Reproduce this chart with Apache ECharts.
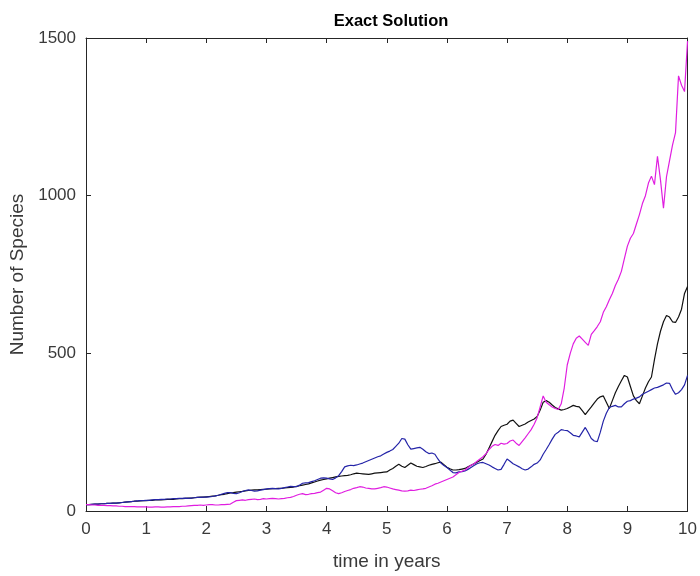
<!DOCTYPE html>
<html>
<head>
<meta charset="utf-8">
<script src="https://cdn.jsdelivr.net/npm/echarts@6/dist/echarts.min.js"></script>
<style>
  html, body { margin: 0; padding: 0; background: #ffffff; }
  #chart { width: 700px; height: 576px; }
</style>
</head>
<body>
<div id="chart"></div>
<script>
// Time grid (years), sampled every 0.05
const years = [];
for (let i = 0; i <= 200; i++) years.push(+(i / 20).toFixed(2));

// Simulated population paths (number of species), one row per year
const magentaPath = [
  20, 20, 19, 19, 18, 18, 18, 17, 17, 16, 16, 15, 15, 14, 14, 14, 14, 13, 13, 13,
  13, 12, 12, 13, 13, 12, 12, 13, 13, 14, 14, 14, 15, 15, 16, 17, 18, 18, 19, 18,
  19, 20, 20, 19, 19, 20, 20, 21, 22, 28, 33, 34, 35, 34, 36, 37, 38, 36, 37, 39,
  38, 39, 40, 39, 38, 39, 40, 42, 43, 46, 50, 53, 55, 52, 53, 55, 56, 58, 60, 66,
  72, 70, 64, 58, 55, 58, 62, 65, 68, 72, 74, 77, 76, 73, 72, 70, 70, 72, 74, 77,
  76, 73, 70, 68, 66, 64, 63, 64, 66, 65, 67, 69, 70, 72, 76, 80, 85, 88, 92, 96,
  100, 104, 108, 115, 122, 126, 130, 138, 145, 150, 158, 165, 172, 182, 195, 205, 211, 208, 215, 212,
  214, 222, 225, 215, 208, 220, 232, 245, 258, 275, 296, 330, 365, 345, 337, 330, 325, 322, 340, 390,
  463, 500, 530, 548, 555, 545, 535, 525, 560, 572, 585, 600, 630, 648, 670, 690, 715, 735, 760, 800,
  840, 865, 880, 910, 940, 975, 1000, 1040, 1062, 1035, 1125, 1050, 960, 1060, 1110, 1160, 1200, 1380, 1350, 1330,
  1490
];
const blackPath = [
  20, 20, 21, 22, 22, 23, 23, 24, 24, 25, 25, 26, 27, 28, 29, 30, 31, 31, 32, 33,
  33, 34, 34, 35, 35, 35, 36, 37, 37, 37, 38, 39, 39, 40, 41, 41, 42, 43, 44, 44,
  45, 46, 47, 48, 50, 52, 53, 55, 57, 58, 60, 61, 62, 64, 65, 66, 67, 67, 68, 69,
  69, 70, 71, 71, 72, 72, 73, 74, 75, 76, 78, 80, 82, 84, 86, 89, 92, 95, 98, 100,
  102, 104, 106, 108, 110, 111, 112, 113, 115, 118, 120, 119, 118, 117, 116, 118, 120, 121, 122, 123,
  124, 130, 135, 142, 148, 142, 138, 145, 152, 147, 142, 140, 138, 141, 145, 148, 150, 153, 155, 147,
  139, 134, 130, 130, 131, 133, 135, 140, 145, 150, 155, 160, 165, 180, 200, 220, 240, 255, 268, 272,
  275, 285, 288, 278, 268, 272, 276, 282, 287, 292, 300, 320, 345, 350, 345, 336, 328, 324, 320, 322,
  325, 330, 335, 332, 330, 318, 306, 318, 330, 343, 355, 362, 365, 345, 325, 350, 375, 395, 413, 430,
  425, 395, 365, 350, 340, 365, 390, 410, 425, 480, 530, 570, 600, 620, 615, 600, 598, 615, 640, 690,
  712
];
const bluePath = [
  20, 20, 21, 22, 22, 23, 23, 24, 24, 25, 25, 26, 27, 28, 29, 30, 31, 32, 33, 33,
  34, 34, 35, 36, 36, 37, 37, 38, 38, 39, 39, 40, 40, 41, 40, 41, 42, 43, 43, 44,
  44, 45, 46, 48, 50, 53, 56, 58, 58, 56, 55, 58, 62, 65, 67, 65, 63, 64, 66, 68,
  70, 71, 72, 71, 70, 72, 74, 76, 78, 77, 77, 82, 88, 89, 90, 93, 96, 100, 104, 105,
  104, 102, 100, 105, 112, 125, 140, 143, 145, 144, 146, 149, 152, 156, 160, 164, 168, 172, 175, 181,
  186, 190, 195, 205, 215, 230, 228, 210, 196, 198, 200, 202, 196, 188, 182, 184, 180, 165, 152, 144,
  138, 130, 122, 121, 124, 125, 127, 132, 138, 144, 150, 153, 154, 150, 146, 140, 135, 130, 132, 148,
  165, 158, 150, 145, 140, 134, 130, 133, 140, 148, 152, 162, 180, 195, 211, 228, 243, 250, 258, 256,
  255, 248, 240, 238, 235, 250, 265, 248, 230, 222, 220, 250, 285, 310, 328, 332, 335, 330, 330, 340,
  348, 350, 355, 358, 362, 370, 375, 380, 385, 390, 392, 396, 400, 406, 405, 385, 370, 375, 385, 400,
  430
];

const xTicks = [0, 1, 2, 3, 4, 5, 6, 7, 8, 9, 10];
const yTicks = [0, 500, 1000, 1500];

const pair = (ys) => years.map((t, i) => [t, ys[i]]);

const axisColor = '#262626';
const labelColor = '#3a3a3a';
const fontFamily = 'Liberation Sans, Arial, Helvetica, sans-serif';

const chart = echarts.init(document.getElementById('chart'), null, { renderer: 'canvas' });

const baseAxis = {
  type: 'value',
  splitLine: { show: false },
  axisLine: { show: true, onZero: false, lineStyle: { color: axisColor, width: 1 } },
  axisTick: { show: true, inside: true, length: 5, lineStyle: { color: axisColor } },
};

chart.setOption({
  animation: false,
  backgroundColor: '#ffffff',
  title: {
    text: 'Exact Solution',
    left: 386,
    top: 8,
    textAlign: 'center',
    textStyle: { fontFamily, fontSize: 16.5, fontWeight: 'bold', color: '#000000' }
  },
  grid: { left: 86, right: 10, top: 38, bottom: 62, containLabel: false },
  xAxis: [
    Object.assign({}, baseAxis, {
      position: 'bottom',
      min: xTicks[0], max: xTicks[xTicks.length - 1], interval: 1,
      name: 'time in years',
      nameLocation: 'middle',
      nameGap: 41,
      nameTextStyle: { fontFamily, fontSize: 19, color: labelColor },
      axisLabel: { fontFamily, fontSize: 17, color: labelColor, margin: 10 }
    }),
    Object.assign({}, baseAxis, {
      position: 'top',
      min: xTicks[0], max: xTicks[xTicks.length - 1], interval: 1,
      axisLabel: { show: false }
    })
  ],
  yAxis: [
    Object.assign({}, baseAxis, {
      position: 'left',
      min: yTicks[0], max: yTicks[yTicks.length - 1], interval: 500,
      name: 'Number of Species',
      nameLocation: 'middle',
      nameGap: 58,
      nameTextStyle: { fontFamily, fontSize: 19, color: labelColor },
      axisLabel: { fontFamily, fontSize: 17, color: labelColor, margin: 10,
        formatter: (v) => String(v) }
    }),
    Object.assign({}, baseAxis, {
      position: 'right',
      min: yTicks[0], max: yTicks[yTicks.length - 1], interval: 500,
      axisLabel: { show: false }
    })
  ],
  series: [
    { name: 'Path 2', type: 'line', data: pair(blackPath), showSymbol: false,
      lineStyle: { color: '#111111', width: 1.2 }, itemStyle: { color: '#111111' } },
    { name: 'Path 3', type: 'line', data: pair(bluePath), showSymbol: false,
      lineStyle: { color: '#2424a8', width: 1.2 }, itemStyle: { color: '#2424a8' } },
    { name: 'Path 1', type: 'line', data: pair(magentaPath), showSymbol: false,
      lineStyle: { color: '#e01ee0', width: 1.2 }, itemStyle: { color: '#e01ee0' } }
  ]
});
</script>
</body>
</html>
